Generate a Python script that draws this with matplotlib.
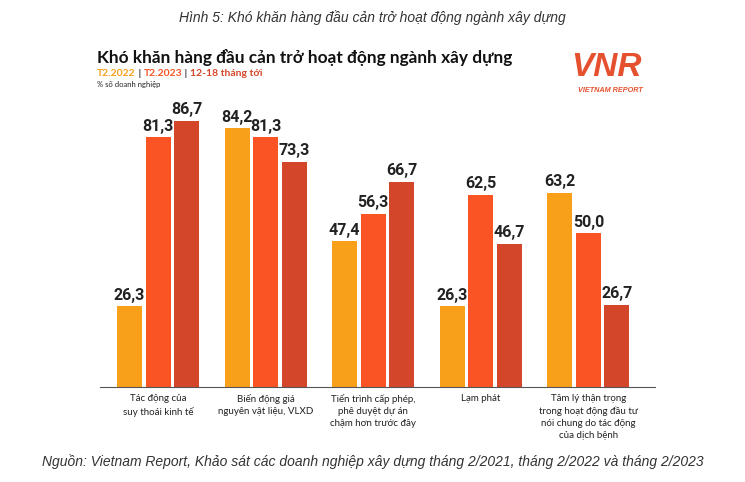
import numpy as np
import matplotlib.pyplot as plt

# data
categories = ["Tác động của\nsuy thoái kinh tế",
              "Biến động giá\nnguyên vật liệu, VLXD",
              "Tiến trình cấp phép,\nphê duyệt dự án\nchậm hơn trước đây",
              "Lạm phát",
              "Tâm lý thận trọng\ntrong hoạt động đầu tư\nnói chung do tác động\ncủa dịch bệnh"]
series_names = ["T2.2022", "T2.2023", "12-18 tháng tới"]
t2_2022 = [26.3, 84.2, 47.4, 26.3, 63.2]
t2_2023 = [81.3, 81.3, 56.3, 62.5, 50.0]
next_12_18 = [86.7, 73.3, 66.7, 46.7, 26.7]

colors = ["#F9A01B", "#FA5424", "#D4462A"]
W, H = 745, 482

fig = plt.figure(figsize=(W / 100, H / 100), dpi=100)
ax = fig.add_axes([100 / W, (H - 387) / H, 555 / W, 277 / H])

x = np.arange(len(categories))
bw = 0.233
off = 0.265
for i, (vals, c) in enumerate(zip([t2_2022, t2_2023, next_12_18], colors)):
    xs = x + (i - 1) * off
    ax.bar(xs, vals, width=bw, color=c, zorder=2)
    for xi, v in zip(xs, vals):
        ax.text(xi, v + 1.2, f"{v:.1f}".replace(".", ","), ha="center", va="bottom",
                fontsize=11.5, fontweight="bold", family="Roboto",
                color="#222222")

ax.set_xlim(-0.54, 4.62)
ax.set_ylim(0, 90.2)
for s in ["top", "right", "left"]:
    ax.spines[s].set_visible(False)
ax.spines["bottom"].set_color("#555555")
ax.spines["bottom"].set_linewidth(0.8)
ax.set_yticks([])
ax.set_xticks(x)
ax.set_xticklabels(categories, fontsize=7, color="#222222", linespacing=1.45, family="Lato")
ax.tick_params(axis="x", length=0, pad=5)

# captions
fig.text(372 / W, 1 - 18 / H, "Hình 5: Khó khăn hàng đầu cản trở hoạt động ngành xây dựng",
         ha="center", va="center", fontsize=10, style="italic", color="#333333",
         family="Liberation Sans")
fig.text(373 / W, 1 - 462 / H,
         "Nguồn: Vietnam Report, Khảo sát các doanh nghiệp xây dựng tháng 2/2021, tháng 2/2022 và tháng 2/2023",
         ha="center", va="center", fontsize=10, style="italic", color="#333333",
         family="Liberation Sans")

# chart title block
fig.text(97 / W, 1 - 57 / H, "Khó khăn hàng đầu cản trở hoạt động ngành xây dựng",
         ha="left", va="center", fontsize=12.4, fontweight="bold", color="#111111", family="Lato")
sub_x = 97 / W
sub_y = 1 - 73 / H
parts = [("T2.2022", colors[0]), (" | ", "#444444"), ("T2.2023", colors[1]),
         (" | ", "#444444"), ("12-18 tháng tới", colors[2])]
fig.canvas.draw()
r = fig.canvas.get_renderer()
for txt, c in parts:
    t = fig.text(sub_x, sub_y, txt, ha="left", va="center", fontsize=7.5,
                 fontweight="bold", color=c, family="Lato")
    bb = t.get_window_extent(renderer=r)
    sub_x += bb.width / W
fig.text(97 / W, 1 - 84 / H, "% số doanh nghiệp", ha="left", va="center",
         fontsize=5.5, color="#222222", family="Lato")

# logo
fig.text(606 / W, 1 - 68 / H, "VNR", ha="center", va="center", fontsize=24,
         style="italic", fontweight="bold", color="#E5502E", family="Liberation Sans")
fig.text(610 / W, 1 - 91 / H, "VIETNAM REPORT", ha="center", va="center", fontsize=5.2,
         style="italic", fontweight="bold", color="#E5502E", family="Liberation Sans")

fig.savefig("out.png", dpi=100)
